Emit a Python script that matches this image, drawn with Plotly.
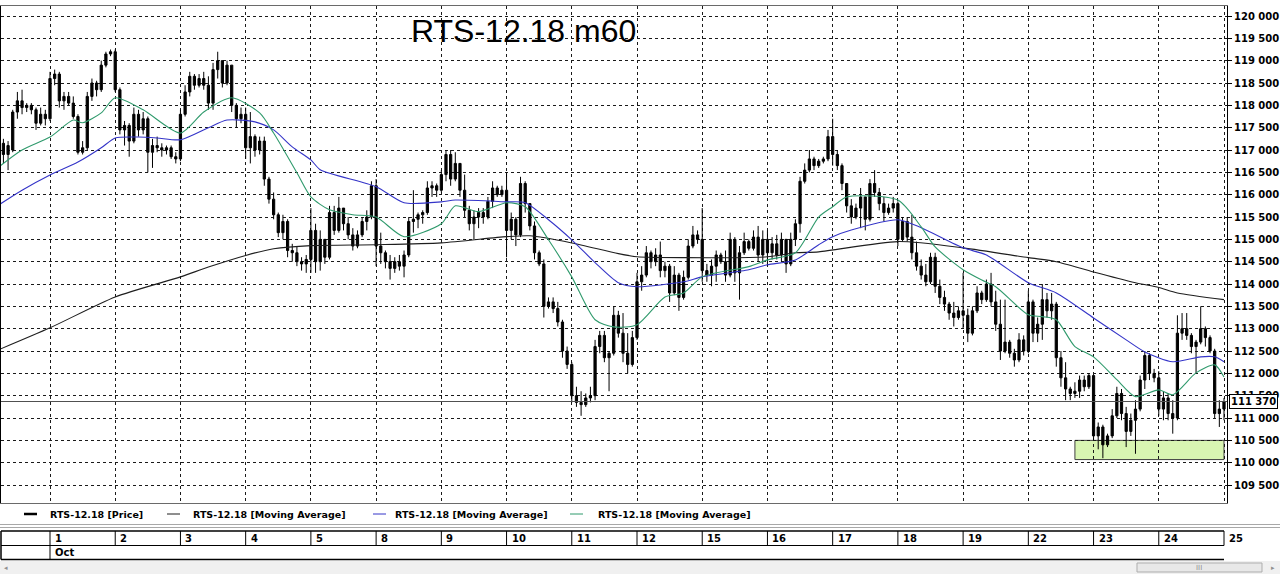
import plotly.graph_objects as go

# ---------------- data ----------------
title_text = "RTS-12.18 m60"
day_labels = ["1", "2", "3", "4", "5", "8", "9", "10", "11", "12", "15", "16", "17", "18", "19", "22", "23", "24", "25"]
month_label = "Oct"
first_session_bars = 11   # visible hourly bars of 28 Sep
bars_per_day = 14         # hourly bars per trading day

opens = [
    116950, 117150, 116900, 117000, 117850, 118100, 117950, 118000, 117900, 117600, 117800,
    117700, 118600, 118700, 118100, 118200, 118050, 117750, 116950, 117050, 118200, 118500, 118350, 118900, 119150,
    119200, 118350, 117450, 117550, 117200, 117800, 117450, 117700, 116950, 117100, 117050, 117000, 117050, 116850,
    116800, 117800, 118300, 118650, 118450, 118600, 118450, 118050, 118800, 119000, 118500, 118900, 118000, 117700,
    117800, 117050, 117300, 117000, 117200, 116350, 115900, 115550, 115150, 115400, 114750, 114700, 114500, 114450,
    114550, 115200, 114500, 115000, 114600, 115600, 115200, 115700, 115350, 115100, 114850, 115100, 115400, 115500,
    116200, 114850, 114700, 114500, 114350, 114500, 114400, 114650, 115400, 115450, 115550, 115600, 116150, 116200,
    116100, 116450, 116900, 116350, 116700, 116100, 115650, 115350, 115500, 115600, 115500, 115850, 116150, 116000,
    116100, 115200, 115450, 115100, 116250, 115800, 115300, 114700, 114450, 113500, 113600, 113450, 113150, 112500,
    112200, 111500, 111350, 111300, 111450, 111500, 112600, 112850, 112350, 112450, 113300, 112900, 112450, 112200,
    112800, 114050, 114200, 114700, 114500, 114650, 114300, 114400, 113800, 114200, 113700, 114150, 114850, 115100,
    115000, 114300, 114200, 114400, 114650, 114500, 114200, 115000, 114250, 114700, 114950, 114800, 115050, 114650,
    115000, 114700, 114900, 114650, 115000, 114450, 115000, 115350, 116300, 116550, 116800, 116650, 116750, 116800,
    117300, 116900, 116650, 116250, 115750, 115500, 115700, 115950, 115450, 116250, 116050, 115800, 115600, 115700,
    115800, 115000, 115400, 115050, 114700, 114400, 114200, 114050, 114600, 113950, 113700, 113550, 113350, 113250,
    113400, 113300, 112900, 113400, 113800, 113650, 114000, 113600, 113100, 112500, 112700, 112450, 112300, 112750,
    112500, 113600, 112900, 113100, 113650, 113400, 113550, 112350, 111900, 111650, 111550, 111600, 111850, 111700,
    111950, 110600, 110800, 110400, 110600, 111050, 111550, 111100, 110700, 110950, 111200, 111850, 112400, 112000,
    111900, 111200, 111450, 111100, 111000, 112900, 113000, 112850, 112600, 112700, 113000, 112800, 112500, 111100,
    111200,
]
highs = [
    117200, 117250, 117200, 117900, 118300, 118350, 118050, 118050, 117950, 117950, 117900,
    118750, 118800, 118750, 118300, 118300, 118200, 117800, 117200, 118300, 118600, 118550, 119000, 119200, 119250,
    119250, 118400, 117650, 117600, 117950, 117900, 117850, 117750, 117250, 117300, 117150, 117100, 117100, 116950,
    117900, 118450, 118750, 118700, 118700, 118750, 118650, 118950, 119200, 119000, 119000, 118900, 118050, 117950,
    117950, 117850, 117350, 117300, 117300, 116400, 116050, 115600, 115550, 115450, 114900, 114850, 114600, 114650,
    115700, 115350, 115200, 115000, 115750, 115750, 115950, 115700, 115500, 115250, 115200, 115500, 115650, 116300,
    116350, 115150, 114750, 114650, 114600, 114650, 114750, 115500, 116100, 115600, 115650, 116300, 116300, 116250,
    116550, 117000, 117000, 116950, 116700, 116450, 115750, 115650, 115700, 115700, 115950, 116300, 116200, 116200,
    116500, 115600, 115500, 116400, 116300, 115800, 115400, 114750, 114550, 113700, 113700, 113600, 113200, 112600,
    112250, 111700, 111600, 111550, 111700, 112750, 112950, 112950, 112500, 113500, 113400, 113350, 112900, 112950,
    114250, 114400, 114850, 114750, 114800, 114950, 114500, 114450, 114400, 114250, 114300, 115000, 115300, 115200,
    115700, 114450, 114550, 114750, 114700, 114750, 115150, 115050, 114850, 115150, 115000, 115200, 115300, 115200,
    115200, 115050, 115100, 115150, 115000, 115150, 115450, 116400, 116700, 117000, 116850, 116800, 116850, 117450,
    117700, 117000, 116700, 116250, 115900, 115800, 116150, 115950, 116350, 116550, 116150, 115950, 115800, 115950,
    115850, 115500, 115500, 115550, 114950, 114550, 114450, 114700, 114700, 114100, 113850, 113600, 113600, 113500,
    114250, 113450, 113500, 113950, 113850, 114100, 114250, 113850, 113650, 113650, 112750, 112550, 112900, 112850,
    113850, 113650, 113250, 114000, 113800, 113800, 113600, 112500, 112250, 111700, 111800, 111950, 111950, 112000,
    111950, 110900, 110850, 110650, 111200, 111700, 111650, 111250, 111100, 111400, 111950, 112500, 112450, 112100,
    112050, 111600, 111550, 111400, 113300, 113350, 113350, 112900, 112750, 113500, 113050, 112850, 112550, 111400,
    111450,
]
lows = [
    116650, 116700, 116550, 116950, 117700, 117800, 117850, 117800, 117450, 117550, 117550,
    117650, 118450, 117950, 117900, 118000, 117700, 116900, 116900, 117000, 118100, 118200, 118300, 118850, 119100,
    118300, 117350, 117100, 116850, 117150, 117300, 117350, 116500, 116600, 116950, 116850, 116900, 116800, 116700,
    116750, 117750, 118200, 118350, 118400, 118350, 117900, 117900, 118600, 118400, 118450, 117850, 117500, 117600,
    116800, 116700, 116850, 116900, 116200, 115800, 115450, 115050, 115000, 114600, 114500, 114400, 114300, 114250,
    114250, 114250, 114300, 114450, 114550, 115100, 115150, 115200, 115000, 114750, 114800, 115050, 115200, 115450,
    114400, 114450, 114350, 114100, 114250, 114300, 114150, 114600, 115150, 115250, 115350, 115550, 115950, 115950,
    116050, 116300, 116200, 116300, 115950, 115500, 115200, 115000, 115250, 115350, 115450, 115700, 115950, 115950,
    114600, 115000, 114850, 115050, 115600, 115200, 114550, 114400, 113250, 113450, 113350, 113050, 112350, 112100,
    111350, 111250, 111050, 111250, 111350, 111400, 112450, 112250, 111600, 112400, 112800, 112250, 112000, 112150,
    112750, 113850, 114150, 114350, 114400, 114150, 114150, 113600, 113750, 113400, 113650, 114100, 114800, 114900,
    114050, 114050, 113950, 114050, 114450, 114050, 114150, 114050, 113650, 114650, 114750, 114750, 114500, 114450,
    114400, 114550, 114550, 114500, 114250, 114400, 114850, 115150, 116250, 116500, 116550, 116600, 116700, 116750,
    116650, 116550, 116100, 115600, 115350, 115450, 115250, 115200, 115400, 115950, 115650, 115400, 115550, 115600,
    114850, 114950, 114950, 114550, 114300, 114100, 113950, 114000, 113800, 113550, 113400, 113200, 113050, 113200,
    113000, 112700, 112850, 113350, 113550, 113600, 113500, 112950, 112300, 112450, 112350, 112150, 112250, 112400,
    112450, 112700, 112700, 112750, 113250, 113200, 112150, 111700, 111400, 111400, 111450, 111450, 111600, 111650,
    110500, 110300, 110100, 110350, 110550, 111000, 110950, 110350, 110600, 110200, 111150, 111650, 111850, 111800,
    111050, 110950, 110950, 110650, 110950, 112750, 112750, 112450, 112000, 112650, 112600, 112450, 111000, 110800,
    110950,
]
closes = [
    117150, 116900, 117100, 117850, 118100, 117950, 118000, 117900, 117600, 117800, 117700,
    118600, 118700, 118100, 118200, 118050, 117750, 116950, 117050, 118200, 118500, 118350, 118900, 119150, 119200,
    118350, 117450, 117550, 117200, 117800, 117450, 117700, 116950, 117100, 117050, 117000, 117050, 116850, 116800,
    117800, 118300, 118650, 118450, 118600, 118450, 118050, 118800, 119000, 118500, 118900, 118000, 117700, 117800,
    117050, 117300, 117000, 117200, 116350, 115900, 115550, 115150, 115400, 114750, 114700, 114500, 114450, 114550,
    115200, 114500, 115000, 114600, 115600, 115200, 115700, 115350, 115100, 114850, 115100, 115400, 115500, 116200,
    114850, 114700, 114500, 114350, 114500, 114400, 114650, 115400, 115450, 115550, 115600, 116150, 116200, 116100,
    116450, 116900, 116350, 116700, 116100, 115650, 115350, 115500, 115600, 115500, 115850, 116150, 116000, 116100,
    115200, 115450, 115100, 116250, 115800, 115300, 114700, 114450, 113500, 113600, 113450, 113150, 112500, 112200,
    111500, 111350, 111300, 111450, 111500, 112600, 112850, 112350, 112450, 113300, 112900, 112450, 112200, 112800,
    114050, 114200, 114700, 114500, 114650, 114300, 114400, 113800, 114200, 113700, 114150, 114850, 115100, 115000,
    114300, 114200, 114400, 114650, 114500, 114200, 115000, 114250, 114700, 114950, 114800, 115050, 114650, 115000,
    114700, 114900, 114650, 115000, 114450, 115000, 115350, 116300, 116550, 116800, 116650, 116750, 116800, 117300,
    116900, 116650, 116250, 115750, 115500, 115700, 115950, 115450, 116250, 116050, 115800, 115600, 115700, 115800,
    115000, 115400, 115050, 114700, 114400, 114200, 114050, 114600, 113950, 113700, 113550, 113350, 113250, 113400,
    113300, 112900, 113400, 113800, 113650, 114000, 113600, 113100, 112500, 112700, 112450, 112300, 112750, 112500,
    113600, 112900, 113100, 113650, 113400, 113550, 112350, 111900, 111650, 111550, 111600, 111850, 111700, 111950,
    110600, 110800, 110400, 110600, 111050, 111550, 111100, 110700, 110950, 111200, 111850, 112400, 112000, 111900,
    111200, 111450, 111100, 111000, 112900, 113000, 112850, 112600, 112700, 113000, 112800, 112500, 111100, 111200,
    111370,
]

# moving averages (bar index, value)
ma_long_x = [0, 11, 25, 39, 45, 53, 59, 67, 81, 95, 109, 114, 123, 133, 137, 147, 165, 171, 176, 193,
             207, 221, 227, 235, 244, 249, 253, 263]
ma_long_y = [112530, 113020, 113710, 114160, 114380, 114640, 114790, 114860, 114880, 114920, 115060, 115080,
             114920, 114680, 114610, 114590, 114610, 114700, 114720, 114950, 114810, 114590, 114500, 114270,
             114030, 113920, 113800, 113650]
ma_mid_x = [0, 5, 11, 17, 22, 25, 30, 34, 39, 45, 49, 55, 59, 63, 67, 69, 81, 87, 95, 98, 109, 113, 118, 123,
            128, 133, 137, 147, 151, 161, 165, 171, 176, 179, 183, 193, 198, 207, 212, 221, 227, 235, 242, 246,
            252, 258, 261, 263]
ma_mid_y = [115770, 116100, 116440, 116730, 117050, 117270, 117290, 117270, 117230, 117500, 117670, 117630,
            117450, 117070, 116780, 116560, 116180, 115820, 115840, 115880, 115840, 115820, 115440, 114990,
            114480, 114030, 113940, 114050, 114160, 114320, 114430, 114540, 114880, 115060, 115210, 115440,
            115260, 114810, 114650, 114030, 113800, 113240, 112750, 112480, 112260, 112370, 112370, 112260]
ma_short_x = [0, 5, 11, 16, 18, 22, 25, 31, 39, 44, 50, 56, 59, 64, 67, 71, 76, 81, 87, 95, 98, 103, 109,
              113, 118, 123, 128, 132, 137, 143, 147, 151, 161, 165, 171, 176, 179, 182, 193, 198, 201, 207,
              211, 214, 221, 224, 227, 231, 235, 240, 244, 249, 252, 257, 261, 263]
ma_short_y = [116620, 117000, 117290, 117670, 117610, 117830, 118170, 117900, 117380, 117850, 118170, 117830,
              117380, 116490, 115950, 115660, 115550, 115500, 115060, 115350, 115750, 115620, 115820, 115730,
              114990, 114160, 113200, 113040, 113090, 113710, 113800, 114160, 114390, 114540, 114700, 115500,
              115730, 115950, 115880, 115280, 114830, 114320, 114090, 113940, 113310, 113270, 113200, 112600,
              112370, 111860, 111480, 111630, 111520, 112010, 112190, 111920]

legend_names = ["RTS-12.18 [Price]", "RTS-12.18 [Moving Average]",
                "RTS-12.18 [Moving Average]", "RTS-12.18 [Moving Average]"]
last_price = 111370
zone_bars = (231, 263)
zone_prices = (110070, 110500)
y_tick_values = list(range(109500, 120001, 500))

# ---------------- geometry ----------------
W, H = 1280, 574
PL, PR, PT, PB = 1, 1227, 6, 503          # plot area in pixels

n = len(closes)
xs = list(range(n))
day_start = [first_session_bars + k * bars_per_day for k in range(len(day_labels))]

ppb = (1224 - 50) / (day_start[-1] - day_start[0])
xmin = day_start[0] - (50 - PL) / ppb
xmax = xmin + (PR - PL) / ppb
ppu = (462.7 - 16) / 10000
ymax = 120000 + (16 - PT) / ppu
ymin = 120000 - (PB - 16) / ppu


def fx(p):
    return (p - PL) / (PR - PL)


def fy(p):
    return (PB - p) / (PB - PT)


UI_FONT = dict(family="DejaVu Sans", size=10, color="black", weight="bold")
LEG_FONT = dict(family="DejaVu Sans", size=9.5, color="black", weight="bold")
C_LONG, C_MID, C_SHORT = "#1e1e1e", "#3434c8", "#2f9a6c"

fig = go.Figure()
fig.add_trace(go.Candlestick(
    x=xs, open=opens, high=highs, low=lows, close=closes,
    increasing=dict(line=dict(color="black", width=1), fillcolor="black"),
    decreasing=dict(line=dict(color="black", width=1), fillcolor="black"),
    whiskerwidth=0, name=legend_names[0]))
for mx, my, col, nm in [(ma_long_x, ma_long_y, C_LONG, legend_names[1]),
                        (ma_mid_x, ma_mid_y, C_MID, legend_names[2]),
                        (ma_short_x, ma_short_y, C_SHORT, legend_names[3])]:
    fig.add_trace(go.Scatter(x=mx, y=my, mode="lines", name=nm, hoverinfo="skip",
                             line=dict(color=col, width=1.1, shape="spline", smoothing=0.7)))

grid = dict(showgrid=True, gridcolor="#1a1a1a", griddash="3px,3px", gridwidth=1)

shapes = []
annotations = []

# support zone and last price line
shapes.append(dict(type="rect", xref="x", yref="y", x0=zone_bars[0], x1=zone_bars[1],
                   y0=zone_prices[0], y1=zone_prices[1], fillcolor="#d8f5b2",
                   line=dict(color="#404040", width=1), layer="below"))
shapes.append(dict(type="line", xref="paper", yref="y", x0=0, x1=1, y0=last_price, y1=last_price,
                   line=dict(color="#505050", width=1)))

# title
annotations.append(dict(text=title_text, xref="paper", yref="paper", x=fx(523), y=fy(31),
                        xanchor="center", yanchor="middle", showarrow=False,
                        font=dict(family="Liberation Sans, Arial", size=32, color="black")))
# last price box
annotations.append(dict(text=f"{last_price:,}".replace(",", " "), xref="paper", yref="y",
                        x=fx(1229), y=last_price, xanchor="left", yanchor="middle", showarrow=False,
                        bgcolor="white", bordercolor="black", borderwidth=1, borderpad=1, font=UI_FONT))

# legend row
leg_items = [(24, 37, "black", 2.5, 48), (167, 180, C_LONG, 1, 191),
             (373, 386, C_MID, 1, 393), (570, 583, C_SHORT, 1, 596)]
for (a, b, col, w, tx), nm in zip(leg_items, legend_names):
    shapes.append(dict(type="line", xref="paper", yref="paper", x0=fx(a), x1=fx(b),
                       y0=fy(514), y1=fy(514), line=dict(color=col, width=w)))
    annotations.append(dict(text=nm, xref="paper", yref="paper", x=fx(tx), y=fy(514),
                            xanchor="left", yanchor="middle", showarrow=False, font=LEG_FONT))

# separator double line
for yy in (524.5, 527.5):
    shapes.append(dict(type="line", xref="paper", yref="paper", x0=fx(0), x1=fx(1280),
                       y0=fy(yy), y1=fy(yy), line=dict(color="#a8a8a8", width=1)))

# date axis boxes
row_top, row_mid, row_bot = 531, 545.5, 559.5
shapes.append(dict(type="line", xref="x", yref="paper", x0=xmin, x1=day_start[-1],
                   y0=fy(row_top), y1=fy(row_top), line=dict(color="black", width=1.5)))
shapes.append(dict(type="line", xref="x", yref="paper", x0=xmin, x1=day_start[-1],
                   y0=fy(row_mid), y1=fy(row_mid), line=dict(color="black", width=1)))
shapes.append(dict(type="line", xref="x", yref="paper", x0=xmin, x1=day_start[-1],
                   y0=fy(row_bot), y1=fy(row_bot), line=dict(color="black", width=1.5)))
shapes.append(dict(type="line", xref="paper", yref="paper", x0=0, x1=0,
                   y0=fy(row_top), y1=fy(row_bot), line=dict(color="black", width=1.5)))
for k, d in enumerate(day_start):
    shapes.append(dict(type="line", xref="x", yref="paper", x0=d, x1=d,
                       y0=fy(row_top), y1=fy(row_bot if k == 0 else row_mid),
                       line=dict(color="black", width=1)))
    annotations.append(dict(text=day_labels[k], xref="x", yref="paper", x=d, xshift=3,
                            y=fy((row_top + row_mid) / 2), xanchor="left", yanchor="middle",
                            showarrow=False, font=UI_FONT))
annotations.append(dict(text=month_label, xref="x", yref="paper", x=day_start[0], xshift=3,
                        y=fy((row_mid + row_bot) / 2), xanchor="left", yanchor="middle",
                        showarrow=False, font=UI_FONT))

# scrollbar strip
shapes.append(dict(type="rect", xref="paper", yref="paper", x0=fx(0), x1=fx(1280),
                   y0=fy(561), y1=fy(574), fillcolor="#f0f0f0", line=dict(width=0)))
shapes.append(dict(type="rect", xref="paper", yref="paper", x0=fx(1137), x1=fx(1262),
                   y0=fy(563), y1=fy(572), fillcolor="#e8e8e8", line=dict(color="#adadad", width=1)))
for tx, t in [(6, "◂"), (1273, "▸"), (1199, "III")]:
    annotations.append(dict(text=t, xref="paper", yref="paper", x=fx(tx), y=fy(567.5),
                            xanchor="center", yanchor="middle", showarrow=False,
                            font=dict(family="DejaVu Sans", size=7, color="#909090")))

fig.update_layout(
    width=W, height=H,
    margin=dict(l=PL, r=W - PR, t=PT, b=H - PB, pad=0),
    paper_bgcolor="white", plot_bgcolor="white",
    showlegend=False, boxgap=0.32,
    xaxis=dict(range=[xmin, xmax], tickmode="array", tickvals=day_start, showticklabels=False,
               ticks="", zeroline=False, showline=True, linecolor="#6a6a6a", mirror=True,
               rangeslider=dict(visible=False), **grid),
    yaxis=dict(range=[ymin, ymax], side="right", tickmode="array", tickvals=y_tick_values,
               ticktext=[f"{v:,}".replace(",", " ") for v in y_tick_values],
               ticks="outside", ticklen=4, tickcolor="black", showline=True, linecolor="black",
               mirror=True, zeroline=False, tickfont=UI_FONT, **grid),
    shapes=shapes, annotations=annotations,
)

fig.write_html("out.html", config={"displayModeBar": False},
               post_script="document.body.style.margin='0px';document.body.style.overflow='hidden';")
